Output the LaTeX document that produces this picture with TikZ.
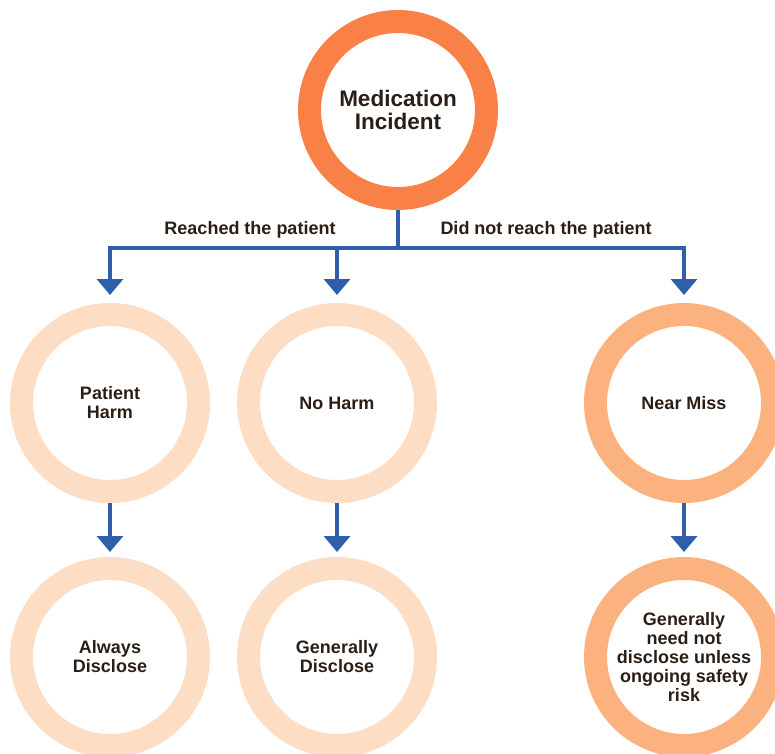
\documentclass[tikz,border=0pt]{standalone}
\usepackage{fontspec}
\setmainfont{Liberation Sans}
\usepackage{xcolor}
\usepackage{tikz}
\usetikzlibrary{positioning}
\usetikzlibrary{arrows.meta}

\definecolor{ringorange}{RGB}{249,129,72}
\definecolor{ringpeach}{RGB}{251,178,126}
\definecolor{ringpale}{RGB}{253,221,195}
\definecolor{linkblue}{RGB}{47,95,171}
\definecolor{textbrown}{RGB}{42,30,22}

\tikzset{
  ring/.style={circle, draw, line width=23pt, minimum size=177pt, inner sep=0pt,
    outer sep=11.5pt, align=center, text=textbrown,
    font=\bfseries\fontsize{18}{19}\selectfont},
  link/.style={draw=linkblue, line width=3.5pt},
  arrow/.style={link, -{Triangle[width=26pt,length=16pt]}},
  branch/.style={text=textbrown, font=\bfseries\fontsize{18}{19}\selectfont}
}

\begin{document}
\begin{tikzpicture}[x=1pt, y=-1pt]

  \useasboundingbox (0,0) rectangle (775,753);

  % Define nodes
  \node[ring, draw=ringorange, font=\bfseries\fontsize{22.5}{23}\selectfont] (incident) at (398,110) {Medication\\Incident};
  \node[ring, draw=ringpale] (harm) at (110,403) {Patient\\Harm};
  \node[ring, draw=ringpale] (noharm) at (337,403) {No Harm};
  \node[ring, draw=ringpeach] (miss) at (684,403) {Near Miss};
  \node[ring, draw=ringpale, below=54pt of harm] (always) {Always\\Disclose};
  \node[ring, draw=ringpale, below=54pt of noharm] (generally) {Generally\\Disclose};
  \node[ring, draw=ringpeach, below=54pt of miss] (neednot) {Generally\\need not\\disclose unless\\ongoing safety\\risk};

  \coordinate (bar) at (398,248);
  \node[branch] (reached) at (250,230) {Reached the patient};
  \node[branch] (notreached) at (546,230) {Did not reach the patient};

  % Connect nodes
  \draw[link] (incident) -- (bar);
  \draw[link, line cap=rect] (bar -| harm) -- (bar -| miss);
  \draw[arrow, shorten >=8pt] (bar -| harm) -- (harm);
  \draw[arrow, shorten >=8pt] (bar -| noharm) -- (noharm);
  \draw[arrow, shorten >=8pt] (bar -| miss) -- (miss);
  \draw[arrow, shorten >=5pt] (harm) -- (always);
  \draw[arrow, shorten >=5pt] (noharm) -- (generally);
  \draw[arrow, shorten >=5pt] (miss) -- (neednot);

\end{tikzpicture}
\end{document}
